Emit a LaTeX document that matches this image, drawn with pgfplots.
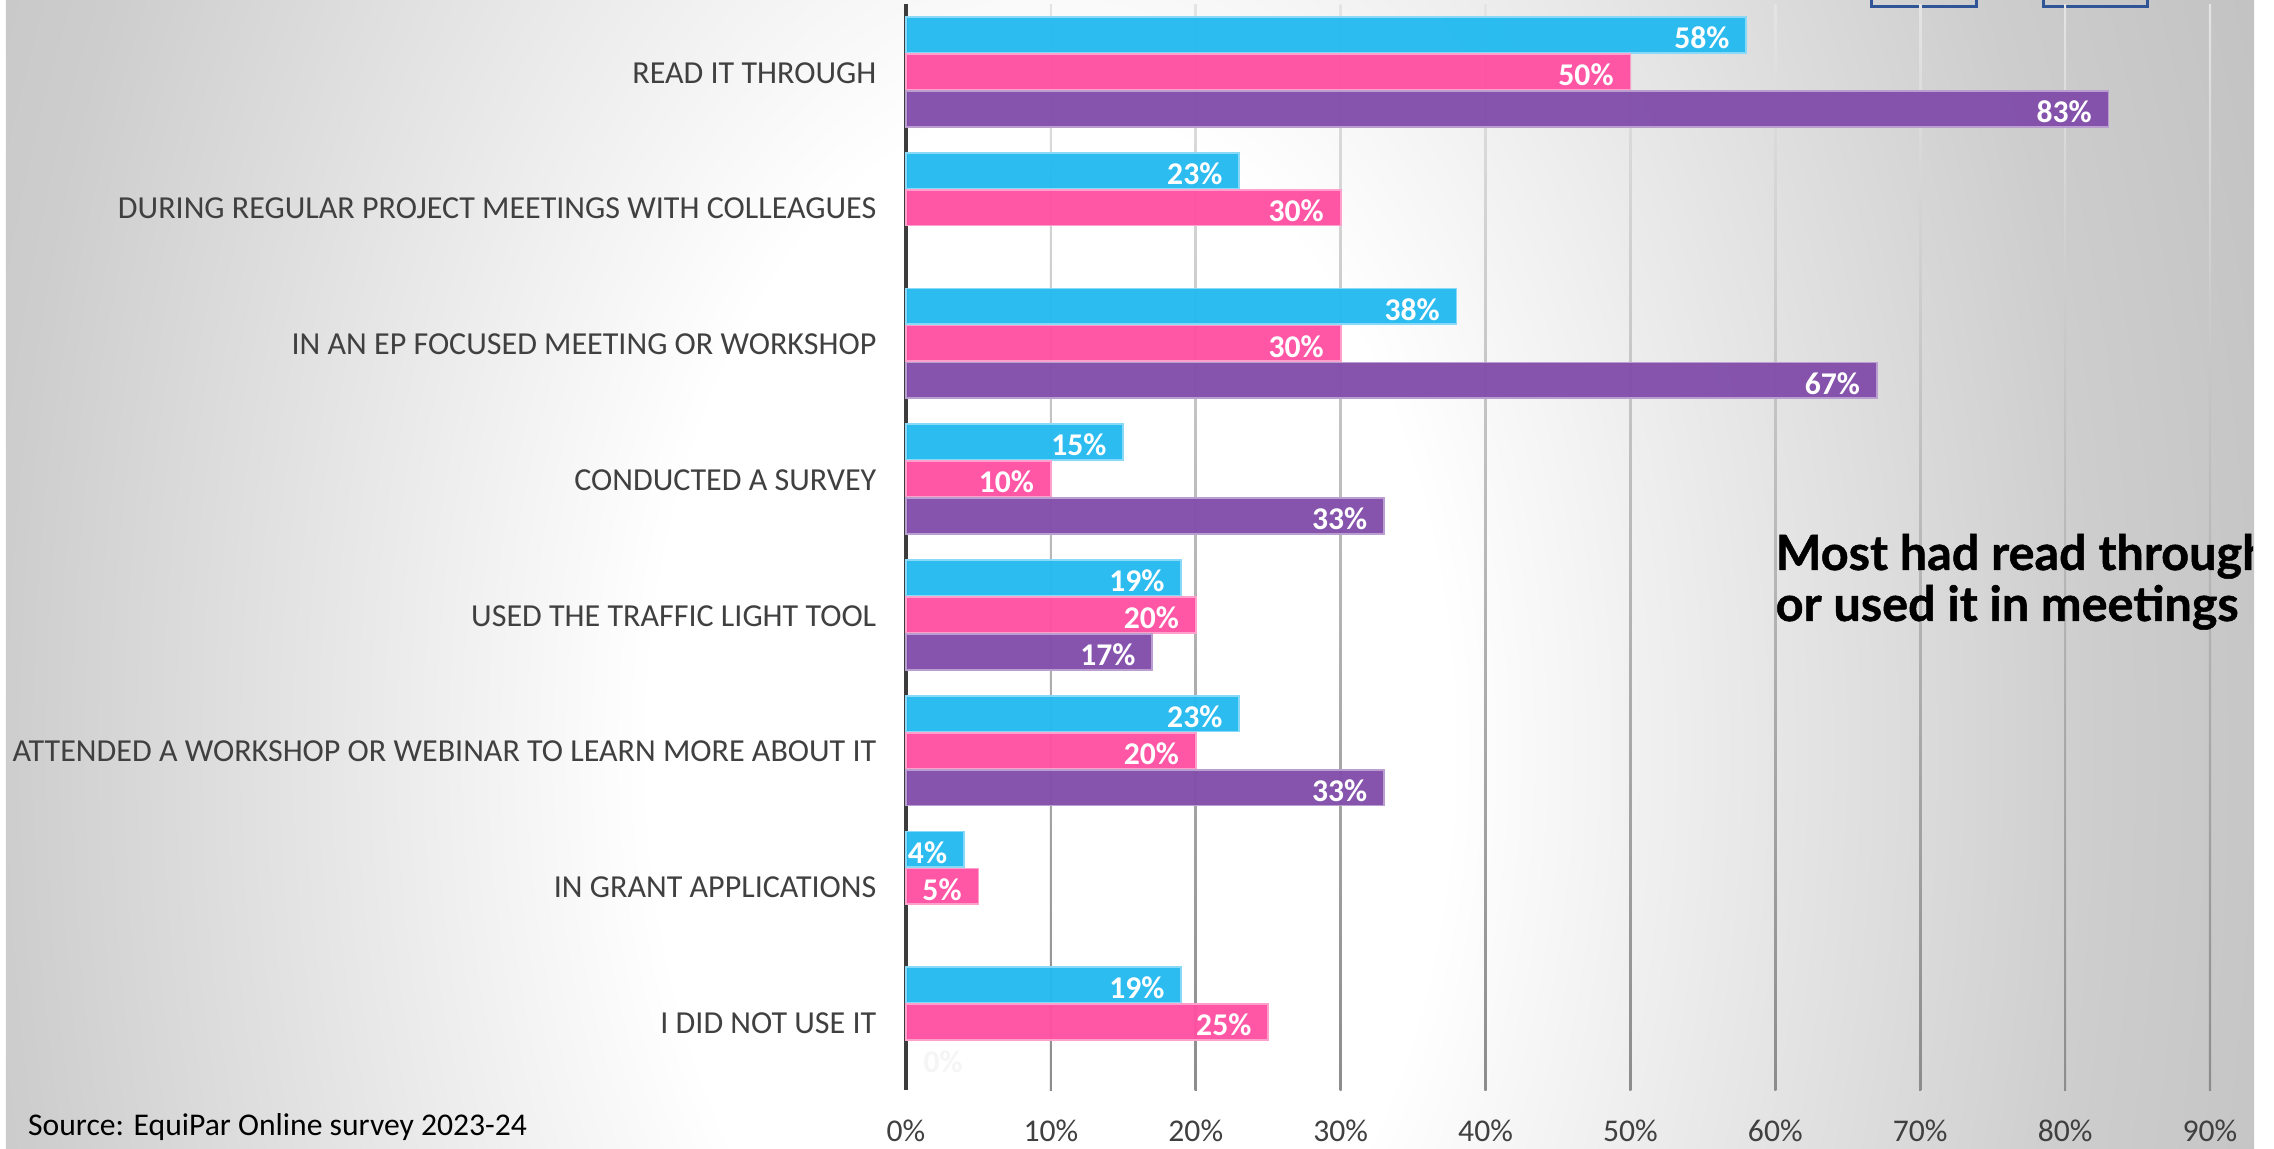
\documentclass[border=0pt]{standalone}
\usepackage{pgfplots}
\pgfplotsset{compat=1.18}
\usepackage{fontspec}
\setmainfont{Carlito}
\newfontfamily\headfont[FakeBold=1.0]{Lato}
\definecolor{cblue}{RGB}{36,186,240}
\definecolor{cpink}{RGB}{255,80,162}
\definecolor{cpurple}{RGB}{130,78,170}
\definecolor{txtgray}{RGB}{64,64,64}
\definecolor{axgray}{RGB}{60,60,60}
\definecolor{gridtop}{RGB}{228,228,228}
\definecolor{gridbot}{RGB}{140,140,140}
\definecolor{bgA}{RGB}{205,205,205}
\definecolor{bgB}{RGB}{190,190,190}
\definecolor{legblue}{RGB}{47,85,151}
\pgfdeclareradialshading{bgshade}{\pgfpoint{0cm}{0cm}}{color(0cm)=(white); color(4cm)=(white); color(10.5cm)=(bgA); color(14cm)=(bgB)}
\begin{document}
\begin{tikzpicture}[x=1cm,y=1cm]
\useasboundingbox (0,0) rectangle (22.74,11.49);
\fill[white] (0,0) rectangle (22.74,11.49);
\begin{scope}
\clip (0.06,0) rectangle (22.54,11.49);
\begin{scope}[shift={(10.5,3.99)}, yscale=1.6]
\node[inner sep=0pt, outer sep=0pt, transform shape] at (0,0) {\pgfuseshading{bgshade}};
\end{scope}
\draw[legblue, line width=0.85pt] (18.71,11.42) rectangle (19.76,11.8);
\draw[legblue, line width=0.85pt] (20.43,11.42) rectangle (21.47,11.8);
\end{scope}
\begin{axis}[
  at={(9.06cm,0.59cm)}, anchor=south west, scale only axis,
  width=13.04cm, height=10.86cm,
  xbar, bar width=0.262,
  xmin=0, xmax=90, ymin=-0.5, ymax=7.5, y dir=reverse,
  axis x line*=bottom, axis y line*=left,
  x axis line style={draw=none},
  y axis line style={line width=0.95pt, color=axgray},
  tick style={draw=none},
  xtick={0,10,...,90},
  xticklabel={\pgfmathprintnumber{\tick}\%},
  ytick={0,...,7},
  yticklabels={READ IT THROUGH, DURING REGULAR PROJECT MEETINGS WITH COLLEAGUES, IN AN EP FOCUSED MEETING OR WORKSHOP, CONDUCTED A SURVEY, USED THE TRAFFIC LIGHT TOOL, ATTENDED A WORKSHOP OR WEBINAR TO LEARN MORE ABOUT IT, IN GRANT APPLICATIONS, I DID NOT USE IT},
  /pgf/number format/assume math mode=true,
  xticklabel style={font=\fontsize{9pt}{10pt}\selectfont, text=txtgray, inner sep=0pt, anchor=north, yshift=-0.29cm},
  yticklabel style={font=\fontsize{9.12pt}{10pt}\selectfont, text=txtgray, inner sep=0pt, anchor=east, xshift=-0.14cm, yshift=-0.01cm},
  point meta=x,
  nodes near coords={\pgfmathprintnumber{\pgfplotspointmeta}\%},
  every node near coord/.append style={font=\bfseries\fontsize{9pt}{10pt}\selectfont, text=white, inner sep=0pt, anchor=east, xshift=-0.16cm, yshift=-0.03cm},
  clip=false,
]
\pgfplotsinvokeforeach{10,20,30,40,50,60,70,80,90}{
  \shade[top color=gridtop, bottom color=gridbot] ([xshift=-0.3pt]axis cs:#1,-0.5) rectangle ([xshift=0.3pt]axis cs:#1,7.5);
}
\addplot[bar shift=-0.2725, fill=cblue, fill opacity=0.96, draw=cblue!55!white, line width=0.5pt, text opacity=1]
  coordinates {(58,0) (23,1) (38,2) (15,3) (19,4) (23,5) (4,6) (19,7)};
\addplot[bar shift=0, fill=cpink, fill opacity=0.96, draw=cpink!55!white, line width=0.5pt, text opacity=1]
  coordinates {(50,0) (30,1) (30,2) (10,3) (20,4) (20,5) (5,6) (25,7)};
\addplot[bar shift=0.2725, fill=cpurple, fill opacity=0.96, draw=cpurple!55!white, line width=0.5pt, text opacity=1]
  coordinates {(83,0) (67,2) (33,3) (17,4) (33,5)};
\addplot[bar shift=0.2725, draw=none, fill=none,
  every node near coord/.append style={anchor=west, xshift=0.33cm, text=white!92!gray, text opacity=1}]
  coordinates {(0,7)};
\end{axis}
\begin{scope}
\clip (0,0) rectangle (22.53,11.49);
\node[anchor=base west, inner sep=0pt, font=\headfont\bfseries\fontsize{13.8pt}{14.5pt}\selectfont] at (17.75,5.79) {Most had read through};
\node[anchor=base west, inner sep=0pt, font=\headfont\bfseries\fontsize{13.8pt}{14.5pt}\selectfont] at (17.75,5.28) {or used it in meetings};
\end{scope}
\node[anchor=base west, inner sep=0pt, font=\fontsize{9pt}{10pt}\selectfont] at (0.275,0.13) {Source: EquiPar Online survey 2023-24};
\end{tikzpicture}
\end{document}
